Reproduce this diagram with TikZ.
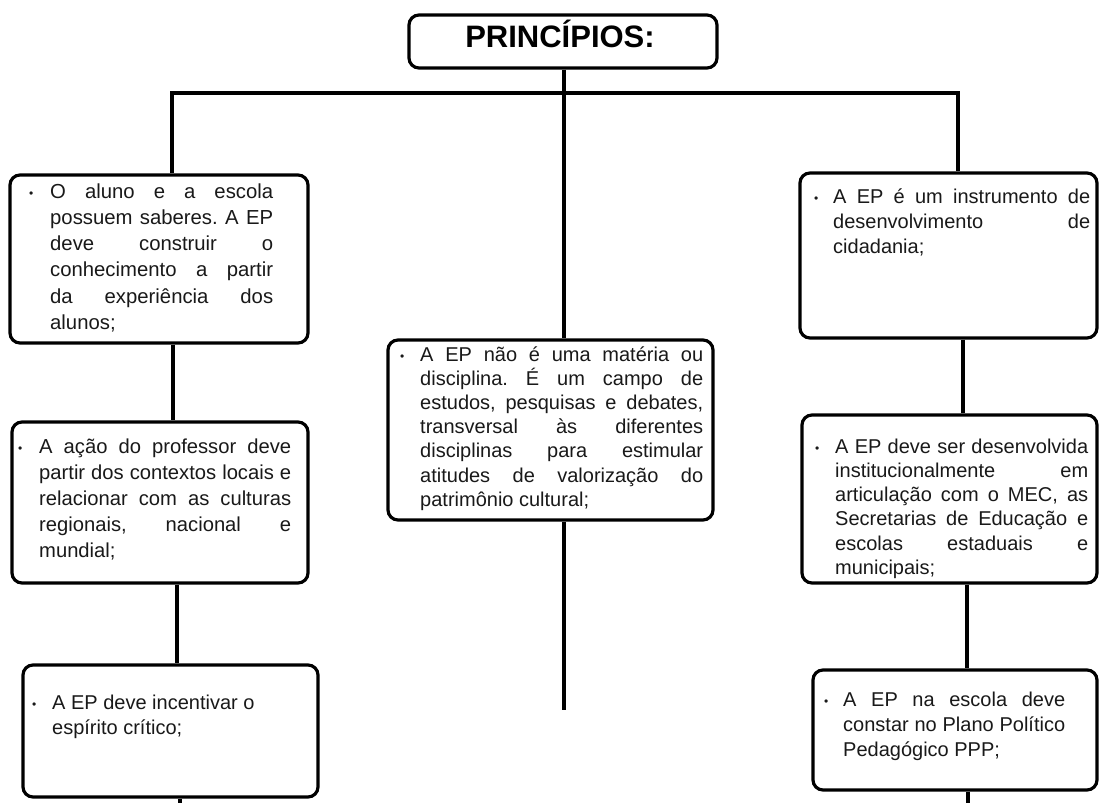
\documentclass[tikz,border=0pt]{standalone}
\usepackage{fontspec}
\setmainfont{Liberation Sans}
\usetikzlibrary{calc}
\frenchspacing
\tikzset{
  box/.style={draw=black, line width=3.2pt, rounded corners=10pt, fill=white, inner sep=0pt},
  conn/.style={draw=black, line width=4.5pt, line join=miter, line cap=butt},
  txt/.style={inner sep=0pt, anchor=base west, align=left, text=black!90},
}
\newcommand{\jline}[2]{\makebox[#1][s]{#2}\par}
\newcommand{\lline}[2]{\makebox[#1][l]{#2}\par}
\newcommand{\bul}[1]{\makebox[#1][l]{\raisebox{1pt}{\fontsize{12}{12}\selectfont\char"2022}}}
\begin{document}
\begin{tikzpicture}[x=1pt,y=-1pt]
\useasboundingbox[fill=white] (0,0) rectangle (1101,803);

% boxes
\node[box, minimum width=308pt, minimum height=53pt] (tbox) at (563,41.5) {};
\node[inner sep=0pt, anchor=base, font=\fontsize{31}{31}\selectfont\bfseries] (ttext) at (560,47) {PRINCÍPIOS:};

\node[box, minimum width=298pt, minimum height=168pt] (b1) at (159,259) {};
\node[box, minimum width=296pt, minimum height=161pt] (b2) at (160,502.5) {};
\node[box, minimum width=295pt, minimum height=132pt] (b4) at (170.5,731) {};
\node[box, minimum width=325pt, minimum height=180pt] (bm) at (550.5,430) {};
\node[box, minimum width=297pt, minimum height=165pt] (r1) at (948.5,255.5) {};
\node[box, minimum width=295pt, minimum height=168pt] (r2) at (949.5,499) {};
\node[box, minimum width=284pt, minimum height=120pt] (r3) at (955,730) {};

% texts
\node[txt, font=\fontsize{20.3}{26.3}\selectfont] (t1) at (29,198) {\bul{21pt}\parbox[t]{223pt}{%
\jline{223pt}{O aluno e a escola}%
\jline{223pt}{possuem saberes. A EP}%
\jline{223pt}{deve construir o}%
\jline{223pt}{conhecimento a partir}%
\jline{223pt}{da experiência dos}%
\lline{223pt}{alunos;}}};

\node[txt, font=\fontsize{20.2}{26}\selectfont] (t2) at (18,453) {\bul{21pt}\parbox[t]{252pt}{%
\jline{252pt}{A ação do professor deve}%
\jline{252pt}{partir dos contextos locais e}%
\jline{252pt}{relacionar com as culturas}%
\jline{252pt}{regionais, nacional e}%
\lline{252pt}{mundial;}}};

\node[txt, font=\fontsize{20}{25}\selectfont] (t4) at (32,709) {\bul{20pt}\parbox[t]{240pt}{%
\lline{240pt}{A EP deve incentivar o}%
\lline{240pt}{espírito crítico;}}};

\node[txt, font=\fontsize{20}{24.2}\selectfont] (tm) at (400,361) {\bul{20pt}\parbox[t]{283pt}{%
\jline{283pt}{A EP não é uma matéria ou}%
\jline{283pt}{disciplina. É um campo de}%
\jline{283pt}{estudos, pesquisas e debates,}%
\jline{283pt}{transversal às diferentes}%
\jline{283pt}{disciplinas para estimular}%
\jline{283pt}{atitudes de valorização do}%
\lline{283pt}{patrimônio cultural;}}};

\node[txt, font=\fontsize{20}{25}\selectfont] (tr1) at (814,203) {\bul{19pt}\parbox[t]{257pt}{%
\jline{257pt}{A EP é um instrumento de}%
\jline{257pt}{desenvolvimento de}%
\lline{257pt}{cidadania;}}};

\node[txt, font=\fontsize{20}{24.3}\selectfont] (tr2) at (815,453) {\bul{20pt}\parbox[t]{253pt}{%
\jline{253pt}{A EP deve ser desenvolvida}%
\jline{253pt}{institucionalmente em}%
\jline{253pt}{articulação com o MEC, as}%
\jline{253pt}{Secretarias de Educação e}%
\jline{253pt}{escolas estaduais e}%
\lline{253pt}{municipais;}}};

\node[txt, font=\fontsize{20}{25}\selectfont] (tr3) at (824,706) {\bul{19pt}\parbox[t]{222pt}{%
\jline{222pt}{A EP na escola deve}%
\jline{222pt}{constar no Plano Político}%
\lline{222pt}{Pedagógico PPP;}}};

% connector coordinates
\coordinate (busL) at (172,93);
\coordinate (busM) at (564,93);
\coordinate (busR) at (958,93);
\coordinate (l1) at (173,0);
\coordinate (l2) at (177,0);
\coordinate (endL) at (180,803);
\coordinate (endM) at (564,710);
\coordinate (q1) at (963,0);
\coordinate (q2) at (967,0);
\coordinate (endR) at (968,803);

% connectors
\draw[conn] (busL |- b1.north) -- (busL) -- (busR) -- (busR |- r1.north);
\draw[conn] (busM |- tbox.south) -- (busM |- bm.north);
\draw[conn] (l1 |- b1.south) -- (l1 |- b2.north);
\draw[conn] (l2 |- b2.south) -- (l2 |- b4.north);
\draw[conn] (endL |- b4.south) -- (endL);
\draw[conn] (endM |- bm.south) -- (endM);
\draw[conn] (q1 |- r1.south) -- (q1 |- r2.north);
\draw[conn] (q2 |- r2.south) -- (q2 |- r3.north);
\draw[conn] (endR |- r3.south) -- (endR);
\end{tikzpicture}
\end{document}
